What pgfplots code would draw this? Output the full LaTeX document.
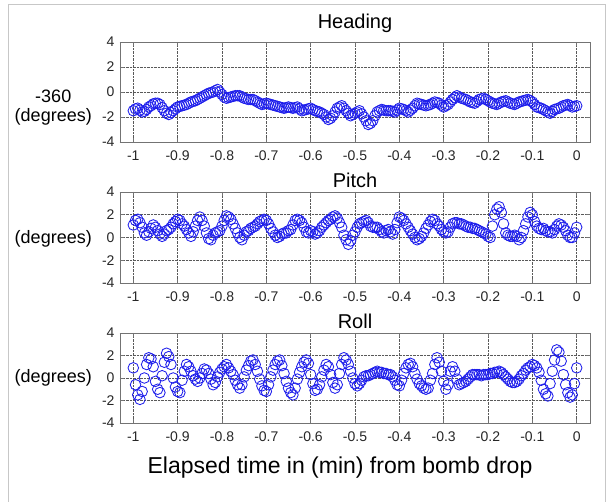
\documentclass[border=0pt]{standalone}
\usepackage{fontspec}
\setmainfont{Liberation Sans}
\usepackage{pgfplots}
\usepackage{pgfplotstable}
\pgfplotsset{compat=1.18}

% heading - 360, degrees
\pgfplotstableread[row sep=\\]{
x y\\
-1.000 -1.5\\ -0.995 -1.35\\ -0.990 -1.3\\ -0.985 -1.45\\ -0.980 -1.6\\ -0.975 -1.55\\ -0.970 -1.4\\ -0.965 -1.2\\ -0.960 -1.1\\ -0.955 -0.95\\
-0.950 -0.9\\ -0.945 -0.9\\ -0.940 -1.0\\ -0.935 -1.25\\ -0.930 -1.5\\ -0.925 -1.7\\ -0.920 -1.8\\ -0.915 -1.65\\ -0.910 -1.5\\ -0.905 -1.35\\
-0.900 -1.2\\ -0.895 -1.15\\ -0.890 -1.1\\ -0.885 -1.05\\ -0.880 -1.0\\ -0.875 -0.9\\ -0.870 -0.8\\ -0.865 -0.75\\ -0.860 -0.7\\ -0.855 -0.6\\
-0.850 -0.5\\ -0.845 -0.4\\ -0.840 -0.3\\ -0.835 -0.2\\ -0.830 -0.1\\ -0.825 -0.05\\ -0.820 0.0\\ -0.815 0.1\\ -0.810 0.2\\ -0.805 0.0\\
-0.800 -0.2\\ -0.795 -0.4\\ -0.790 -0.5\\ -0.785 -0.45\\ -0.780 -0.4\\ -0.775 -0.35\\ -0.770 -0.3\\ -0.765 -0.3\\ -0.760 -0.3\\ -0.755 -0.4\\
-0.750 -0.5\\ -0.745 -0.55\\ -0.740 -0.6\\ -0.735 -0.6\\ -0.730 -0.6\\ -0.725 -0.7\\ -0.720 -0.8\\ -0.715 -0.9\\ -0.710 -1.0\\ -0.705 -0.95\\
-0.700 -0.9\\ -0.695 -0.95\\ -0.690 -1.0\\ -0.685 -1.05\\ -0.680 -1.1\\ -0.675 -1.15\\ -0.670 -1.2\\ -0.665 -1.25\\ -0.660 -1.3\\ -0.655 -1.25\\
-0.650 -1.2\\ -0.645 -1.25\\ -0.640 -1.3\\ -0.635 -1.25\\ -0.630 -1.2\\ -0.625 -1.35\\ -0.620 -1.5\\ -0.615 -1.45\\ -0.610 -1.4\\ -0.605 -1.35\\
-0.600 -1.3\\ -0.595 -1.4\\ -0.590 -1.5\\ -0.585 -1.55\\ -0.580 -1.6\\ -0.575 -1.7\\ -0.570 -1.8\\ -0.565 -2.0\\ -0.560 -2.2\\ -0.555 -2.1\\
-0.550 -1.9\\ -0.545 -1.6\\ -0.540 -1.3\\ -0.535 -1.2\\ -0.530 -1.1\\ -0.525 -1.3\\ -0.520 -1.5\\ -0.515 -1.7\\ -0.510 -1.9\\ -0.505 -1.8\\
-0.500 -1.7\\ -0.495 -1.6\\ -0.490 -1.5\\ -0.485 -1.75\\ -0.480 -2.0\\ -0.475 -2.3\\ -0.470 -2.6\\ -0.465 -2.5\\ -0.460 -2.3\\ -0.455 -1.9\\
-0.450 -1.6\\ -0.445 -1.5\\ -0.440 -1.4\\ -0.435 -1.45\\ -0.430 -1.5\\ -0.425 -1.5\\ -0.420 -1.5\\ -0.415 -1.55\\ -0.410 -1.6\\ -0.405 -1.45\\
-0.400 -1.3\\ -0.395 -1.35\\ -0.390 -1.4\\ -0.385 -1.5\\ -0.380 -1.6\\ -0.375 -1.45\\ -0.370 -1.3\\ -0.365 -1.1\\ -0.360 -0.9\\ -0.355 -0.95\\
-0.350 -1.0\\ -0.345 -1.05\\ -0.340 -1.1\\ -0.335 -1.05\\ -0.330 -1.0\\ -0.325 -0.9\\ -0.320 -0.8\\ -0.315 -0.85\\ -0.310 -0.9\\ -0.305 -1.05\\
-0.300 -1.2\\ -0.295 -1.1\\ -0.290 -1.0\\ -0.285 -0.8\\ -0.280 -0.6\\ -0.275 -0.45\\ -0.270 -0.3\\ -0.265 -0.4\\ -0.260 -0.5\\ -0.255 -0.55\\
-0.250 -0.6\\ -0.245 -0.7\\ -0.240 -0.8\\ -0.235 -0.85\\ -0.230 -0.9\\ -0.225 -0.75\\ -0.220 -0.6\\ -0.215 -0.55\\ -0.210 -0.5\\ -0.205 -0.6\\
-0.200 -0.7\\ -0.195 -0.8\\ -0.190 -0.9\\ -0.185 -0.95\\ -0.180 -1.0\\ -0.175 -0.9\\ -0.170 -0.8\\ -0.165 -0.75\\ -0.160 -0.7\\ -0.155 -0.8\\
-0.150 -0.9\\ -0.145 -0.95\\ -0.140 -1.0\\ -0.135 -0.9\\ -0.130 -0.8\\ -0.125 -0.75\\ -0.120 -0.7\\ -0.115 -0.65\\ -0.110 -0.6\\ -0.105 -0.7\\
-0.100 -0.8\\ -0.095 -1.0\\ -0.090 -1.2\\ -0.085 -1.25\\ -0.080 -1.3\\ -0.075 -1.4\\ -0.070 -1.5\\ -0.065 -1.6\\ -0.060 -1.7\\ -0.055 -1.55\\
-0.050 -1.4\\ -0.045 -1.35\\ -0.040 -1.3\\ -0.035 -1.2\\ -0.030 -1.1\\ -0.025 -1.05\\ -0.020 -1.0\\ -0.015 -1.1\\ -0.010 -1.2\\ -0.005 -1.15\\
0.000 -1.1\\
}\heading

% pitch, degrees
\pgfplotstableread[row sep=\\]{
x y\\
-1.000 1.1\\ -0.995 1.5\\ -0.990 1.6\\ -0.985 1.3\\ -0.980 0.9\\ -0.975 0.4\\ -0.970 0.2\\ -0.965 0.5\\ -0.960 0.8\\ -0.955 1.1\\
-0.950 0.9\\ -0.945 0.6\\ -0.940 0.3\\ -0.935 0.1\\ -0.930 0.3\\ -0.925 0.6\\ -0.920 0.7\\ -0.915 0.9\\ -0.910 1.2\\ -0.905 1.4\\
-0.900 1.6\\ -0.895 1.5\\ -0.890 1.2\\ -0.885 1.0\\ -0.880 0.7\\ -0.875 0.4\\ -0.870 0.1\\ -0.865 0.5\\ -0.860 1.0\\ -0.855 1.5\\
-0.850 1.8\\ -0.845 1.5\\ -0.840 1.0\\ -0.835 0.4\\ -0.830 -0.1\\ -0.825 -0.2\\ -0.820 0.2\\ -0.815 0.4\\ -0.810 0.5\\ -0.805 0.6\\
-0.800 1.0\\ -0.795 1.5\\ -0.790 1.9\\ -0.785 1.8\\ -0.780 1.6\\ -0.775 1.2\\ -0.770 0.8\\ -0.765 0.4\\ -0.760 0.0\\ -0.755 -0.2\\
-0.750 0.2\\ -0.745 0.5\\ -0.740 0.6\\ -0.735 0.8\\ -0.730 0.9\\ -0.725 1.0\\ -0.720 1.2\\ -0.715 1.4\\ -0.710 1.5\\ -0.705 1.6\\
-0.700 1.5\\ -0.695 1.2\\ -0.690 0.8\\ -0.685 0.5\\ -0.680 0.2\\ -0.675 0.0\\ -0.670 0.1\\ -0.665 0.3\\ -0.660 0.4\\ -0.655 0.4\\
-0.650 0.6\\ -0.645 0.7\\ -0.640 1.1\\ -0.635 1.5\\ -0.630 1.6\\ -0.625 1.5\\ -0.620 1.3\\ -0.615 0.9\\ -0.610 0.5\\ -0.605 0.4\\
-0.600 0.6\\ -0.595 0.5\\ -0.590 0.3\\ -0.585 0.4\\ -0.580 0.6\\ -0.575 0.9\\ -0.570 1.1\\ -0.565 1.3\\ -0.560 1.5\\ -0.555 1.6\\
-0.550 1.8\\ -0.545 1.9\\ -0.540 1.7\\ -0.535 1.3\\ -0.530 0.9\\ -0.525 0.2\\ -0.520 -0.2\\ -0.515 -0.6\\ -0.510 -0.3\\ -0.505 0.2\\
-0.500 0.5\\ -0.495 0.9\\ -0.490 1.2\\ -0.485 1.3\\ -0.480 1.4\\ -0.475 1.5\\ -0.470 1.3\\ -0.465 1.0\\ -0.460 0.9\\ -0.455 0.9\\
-0.450 0.9\\ -0.445 0.7\\ -0.440 0.5\\ -0.435 0.4\\ -0.430 0.6\\ -0.425 0.7\\ -0.420 0.5\\ -0.415 0.3\\ -0.410 0.7\\ -0.405 1.3\\
-0.400 1.8\\ -0.395 1.7\\ -0.390 1.5\\ -0.385 1.2\\ -0.380 0.9\\ -0.375 0.6\\ -0.370 0.3\\ -0.365 0.0\\ -0.360 -0.2\\ -0.355 -0.1\\
-0.350 0.1\\ -0.345 0.4\\ -0.340 0.8\\ -0.335 1.1\\ -0.330 1.4\\ -0.325 1.6\\ -0.320 1.5\\ -0.315 1.2\\ -0.310 1.0\\ -0.305 0.7\\
-0.300 0.5\\ -0.295 0.4\\ -0.290 0.5\\ -0.285 0.9\\ -0.280 1.2\\ -0.275 1.3\\ -0.270 1.3\\ -0.265 1.2\\ -0.260 1.2\\ -0.255 1.1\\
-0.250 1.0\\ -0.245 0.9\\ -0.240 0.9\\ -0.235 0.8\\ -0.230 0.8\\ -0.225 0.7\\ -0.220 0.6\\ -0.215 0.5\\ -0.210 0.4\\ -0.205 0.3\\
-0.200 0.1\\ -0.195 0.0\\ -0.190 1.0\\ -0.185 2.0\\ -0.180 2.5\\ -0.175 2.7\\ -0.170 2.2\\ -0.165 1.2\\ -0.160 0.4\\ -0.155 0.2\\
-0.150 0.1\\ -0.145 0.1\\ -0.140 0.2\\ -0.135 0.1\\ -0.130 -0.2\\ -0.125 0.0\\ -0.120 0.6\\ -0.115 1.2\\ -0.110 1.8\\ -0.105 2.2\\
-0.100 2.0\\ -0.095 1.4\\ -0.090 1.0\\ -0.085 0.8\\ -0.080 0.7\\ -0.075 0.8\\ -0.070 0.6\\ -0.065 0.5\\ -0.060 0.5\\ -0.055 0.4\\
-0.050 0.7\\ -0.045 1.0\\ -0.040 1.2\\ -0.035 1.1\\ -0.030 0.9\\ -0.025 0.6\\ -0.020 0.2\\ -0.015 0.0\\ -0.010 0.0\\ -0.005 0.4\\
0.000 0.9\\
}\pitch

% roll, degrees
\pgfplotstableread[row sep=\\]{
x y\\
-1.000 0.9\\ -0.995 -0.6\\ -0.990 -1.5\\ -0.985 -1.9\\ -0.980 -1.2\\ -0.975 0.0\\ -0.970 1.2\\ -0.965 1.8\\ -0.960 1.7\\ -0.955 1.0\\
-0.950 -0.3\\ -0.945 -1.0\\ -0.940 -1.3\\ -0.935 0.2\\ -0.930 1.4\\ -0.925 2.2\\ -0.920 1.9\\ -0.915 1.2\\ -0.910 0.0\\ -0.905 -0.8\\
-0.900 -1.2\\ -0.895 -1.3\\ -0.890 -0.2\\ -0.885 0.6\\ -0.880 1.2\\ -0.875 1.0\\ -0.870 0.6\\ -0.865 0.2\\ -0.860 -0.1\\ -0.855 -0.3\\
-0.850 0.0\\ -0.845 0.4\\ -0.840 0.8\\ -0.835 0.7\\ -0.830 0.4\\ -0.825 -0.1\\ -0.820 -0.6\\ -0.815 -0.4\\ -0.810 0.1\\ -0.805 0.5\\
-0.800 0.8\\ -0.795 1.0\\ -0.790 1.2\\ -0.785 0.9\\ -0.780 0.6\\ -0.775 0.3\\ -0.770 -0.2\\ -0.765 -0.6\\ -0.760 -0.9\\ -0.755 -0.6\\
-0.750 0.1\\ -0.745 0.7\\ -0.740 1.1\\ -0.735 1.5\\ -0.730 1.6\\ -0.725 1.2\\ -0.720 0.6\\ -0.715 -0.1\\ -0.710 -0.7\\ -0.705 -1.1\\
-0.700 -1.2\\ -0.695 -0.6\\ -0.690 0.1\\ -0.685 0.7\\ -0.680 1.2\\ -0.675 1.5\\ -0.670 1.6\\ -0.665 1.1\\ -0.660 0.4\\ -0.655 -0.3\\
-0.650 -0.9\\ -0.645 -1.3\\ -0.640 -1.5\\ -0.635 -0.9\\ -0.630 -0.1\\ -0.625 0.5\\ -0.620 1.0\\ -0.615 1.4\\ -0.610 1.6\\ -0.605 1.3\\
-0.600 0.3\\ -0.595 -0.5\\ -0.590 -1.1\\ -0.585 -1.0\\ -0.580 -0.6\\ -0.575 0.1\\ -0.570 0.7\\ -0.565 1.2\\ -0.560 1.0\\ -0.555 0.3\\
-0.550 -0.4\\ -0.545 -0.9\\ -0.540 -0.6\\ -0.535 0.4\\ -0.530 1.2\\ -0.525 1.8\\ -0.520 1.6\\ -0.515 1.2\\ -0.510 0.6\\ -0.505 0.0\\
-0.500 -0.5\\ -0.495 -0.7\\ -0.490 -0.5\\ -0.485 -0.2\\ -0.480 0.1\\ -0.475 0.2\\ -0.470 0.2\\ -0.465 0.3\\ -0.460 0.4\\ -0.455 0.5\\
-0.450 0.6\\ -0.445 0.5\\ -0.440 0.5\\ -0.435 0.4\\ -0.430 0.4\\ -0.425 0.3\\ -0.420 0.3\\ -0.415 0.1\\ -0.410 -0.2\\ -0.405 -0.6\\
-0.400 -0.7\\ -0.395 -0.2\\ -0.390 0.4\\ -0.385 0.9\\ -0.380 1.2\\ -0.375 1.3\\ -0.370 1.0\\ -0.365 0.4\\ -0.360 -0.1\\ -0.355 -0.5\\
-0.350 -0.7\\ -0.345 -0.9\\ -0.340 -1.0\\ -0.335 -0.9\\ -0.330 -0.2\\ -0.325 0.4\\ -0.320 1.2\\ -0.315 1.8\\ -0.310 1.4\\ -0.305 0.6\\
-0.300 -0.3\\ -0.295 -1.0\\ -0.290 -0.6\\ -0.285 0.6\\ -0.280 1.0\\ -0.275 0.6\\ -0.270 -0.1\\ -0.265 -0.6\\ -0.260 -0.5\\ -0.255 -0.4\\
-0.250 -0.3\\ -0.245 -0.1\\ -0.240 0.1\\ -0.235 0.3\\ -0.230 0.3\\ -0.225 0.3\\ -0.220 0.3\\ -0.215 0.2\\ -0.210 0.3\\ -0.205 0.3\\
-0.200 0.3\\ -0.195 0.4\\ -0.190 0.4\\ -0.185 0.5\\ -0.180 0.5\\ -0.175 0.6\\ -0.170 0.5\\ -0.165 0.3\\ -0.160 0.1\\ -0.155 -0.1\\
-0.150 -0.3\\ -0.145 -0.4\\ -0.140 -0.4\\ -0.135 -0.3\\ -0.130 -0.1\\ -0.125 0.2\\ -0.120 0.4\\ -0.115 0.7\\ -0.110 0.9\\ -0.105 1.0\\
-0.100 1.2\\ -0.095 1.1\\ -0.090 0.9\\ -0.085 0.5\\ -0.080 -0.2\\ -0.075 -1.0\\ -0.070 -1.4\\ -0.065 -1.6\\ -0.060 -0.5\\ -0.055 0.6\\
-0.050 1.6\\ -0.045 2.5\\ -0.040 2.3\\ -0.035 1.5\\ -0.030 0.3\\ -0.025 -0.6\\ -0.020 -1.3\\ -0.015 -1.7\\ -0.010 -1.5\\ -0.005 -0.5\\
0.000 0.9\\
}\roll

\pgfplotsset{
  subplt/.style={
    scale only axis, width=470pt, anchor=south west,
    xmin=-1.03, xmax=0.03, ymin=-4, ymax=4,
    xtick={-1,-0.9,-0.8,-0.7,-0.6,-0.5,-0.4,-0.3,-0.2,-0.1,0},
    xticklabels={-1,-0.9,-0.8,-0.7,-0.6,-0.5,-0.4,-0.3,-0.2,-0.1,0},
    ytick={-4,-2,0,2,4}, yticklabels={-4,-2,0,2,4},
    grid=major, major grid style={densely dotted, black!65, line width=0.6pt},
    axis line style={black!55, line width=0.8pt},
    tick style={black!55, line width=0.6pt}, tick align=inside, major tick length=4pt,
    ticklabel style={font=\fontsize{14}{14}\selectfont, text=black!85},
    xticklabel style={yshift=-5pt},
    yticklabel style={xshift=-2pt},
    title style={font=\fontsize{20}{20}\selectfont, at={(0.5,1)}, anchor=base},
    every axis y label/.style={at={(rel axis cs:-0.142,0.5)}, anchor=center,
      align=center, font=\fontsize{18}{19}\selectfont},
    every axis x label/.style={at={(axis description cs:0.5,0)}, anchor=base,
      yshift=-50.5pt, xshift=-15pt, font=\fontsize{23}{23}\selectfont},
  },
  dots/.style={only marks, mark=o, mark size=5.3pt, color={rgb,255:red,30;green,30;blue,235},
    mark options={line width=0.85pt}},
}

\begin{document}
\begin{tikzpicture}[x=1pt,y=1pt]
\useasboundingbox (0,0) rectangle (613,502);
\draw[black!22, line width=1pt] (8,-20) rectangle (605.5,497.5);

\begin{axis}[subplt, at={(120pt,360pt)}, height=100pt,
  title={Heading}, title style={yshift=7pt},
  ylabel={-360\\(degrees)}, ylabel style={at={(rel axis cs:-0.142,0.345)}}]
\addplot[dots] table[x=x, y=y] {\heading};
\end{axis}

\begin{axis}[subplt, at={(120pt,219pt)}, height=91pt,
  title={Pitch}, title style={yshift=-2pt},
  ylabel={(degrees)}, ylabel style={at={(rel axis cs:-0.142,0.49)}}]
\addplot[dots] table[x=x, y=y] {\pitch};
\end{axis}

\begin{axis}[subplt, at={(120pt,79pt)}, height=90pt,
  title={Roll}, title style={yshift=-2pt},
  ylabel={(degrees)},
  xlabel={Elapsed time in (min) from bomb drop}]
\addplot[dots] table[x=x, y=y] {\roll};
\end{axis}
\end{tikzpicture}
\end{document}
